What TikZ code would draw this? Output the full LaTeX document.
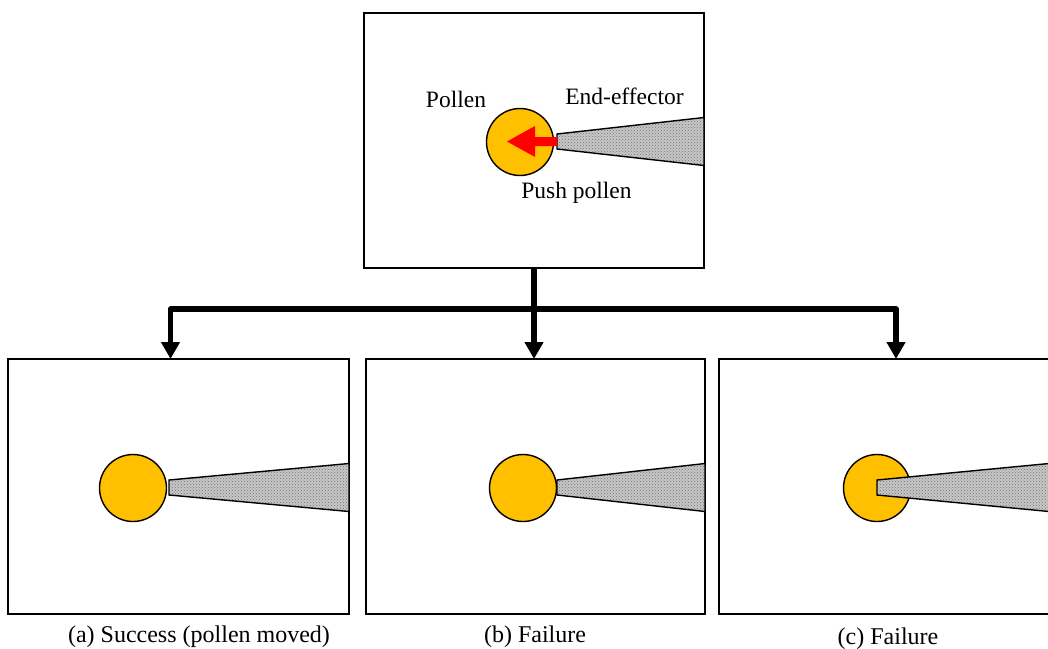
\documentclass[tikz,border=0pt]{standalone}
\usepackage{fontspec}
\setmainfont{Liberation Serif}
\usetikzlibrary{arrows.meta,patterns}
\definecolor{pollenfill}{HTML}{FFC000}
\definecolor{pushred}{HTML}{FF0000}
% effector wedge: tip x, centre y, base x
\newcommand{\effwedge}[3]{%
  \fill[black!22] (#1,#2-7.5) -- (#3,#2-24) -- (#3,#2+24) -- (#1,#2+7.5) -- cycle;
  \fill[effdots] (#1,#2-7.5) -- (#3,#2-24) -- (#3,#2+24) -- (#1,#2+7.5) -- cycle;
  \draw[effector] (#1,#2-7.5) -- (#3,#2-24) -- (#3,#2+24) -- (#1,#2+7.5) -- cycle;}
\begin{document}
\begin{tikzpicture}[x=1pt,y=-1pt,
  panel/.style={draw=black,line width=1.5pt,fill=white,rectangle,
    minimum width=#1,minimum height=255pt,inner sep=0pt,outer sep=0pt},
  pollen/.style={circle,draw=black,line width=1.4pt,fill=pollenfill,
    minimum size=67pt,inner sep=0pt},
  effector/.style={draw=black,line width=1.4pt,line join=miter},
  effdots/.style={pattern=crosshatch dots,pattern color=black!55},
  bar/.style={line width=5.5pt,line join=round},
  drop/.style={bar,-{Triangle[length=17pt,width=18pt]}},
  lbl/.style={anchor=base,inner sep=0pt,font=\fontsize{23.5}{28}\selectfont},
  caption/.style={anchor=base,inner sep=0pt,font=\fontsize{24}{29}\selectfont}]
\useasboundingbox (0,0) rectangle (1048,648);
\clip (0,0) rectangle (1048,648);

% ---- initial state ----
\node[panel=340pt] (top) at (534,140.5) {};
\node[pollen] (p0) at (520,142) {};
\effwedge{557}{141.5}{704}
\fill[pushred] (557,137) -- (535,137) -- (535,126) -- (507,141.5)
  -- (535,157) -- (535,146) -- (557,146) -- cycle;
\node[lbl] (tpollen) at (456,107) {Pollen};
\node[lbl] (teff) at (624.5,104) {End-effector};
\node[lbl] (tpush) at (576.5,198) {Push pollen};

% ---- outcomes ----
\node[panel=341pt] (pa) at (178.5,486.5) {};
\node[panel=339pt] (pb) at (535.5,486.5) {};
\node[panel=354pt] (pc) at (896,486.5) {};

\node[pollen] (qa) at (133,488) {};
\effwedge{169}{487.5}{349}
\node[pollen] (qb) at (523,488) {};
\effwedge{557}{487.5}{705}
\node[pollen] (qc) at (877,488) {};
\effwedge{877}{487.5}{1049}

\node[caption] (ca) at (199,642) {(a) Success (pollen moved)};
\node[caption] (cb) at (535,642) {(b) Failure};
\node[caption] (cc) at (888,644) {(c) Failure};

% ---- branching connectors ----
\coordinate (bus) at (534,309);
\draw[bar] (top.south) -- (bus);
\draw[drop] (bus) -| ([xshift=-8pt]pa.north);
\draw[drop] (bus) -- (bus |- pb.north);
\draw[drop] (bus) -| (pc.north);
\end{tikzpicture}
\end{document}
